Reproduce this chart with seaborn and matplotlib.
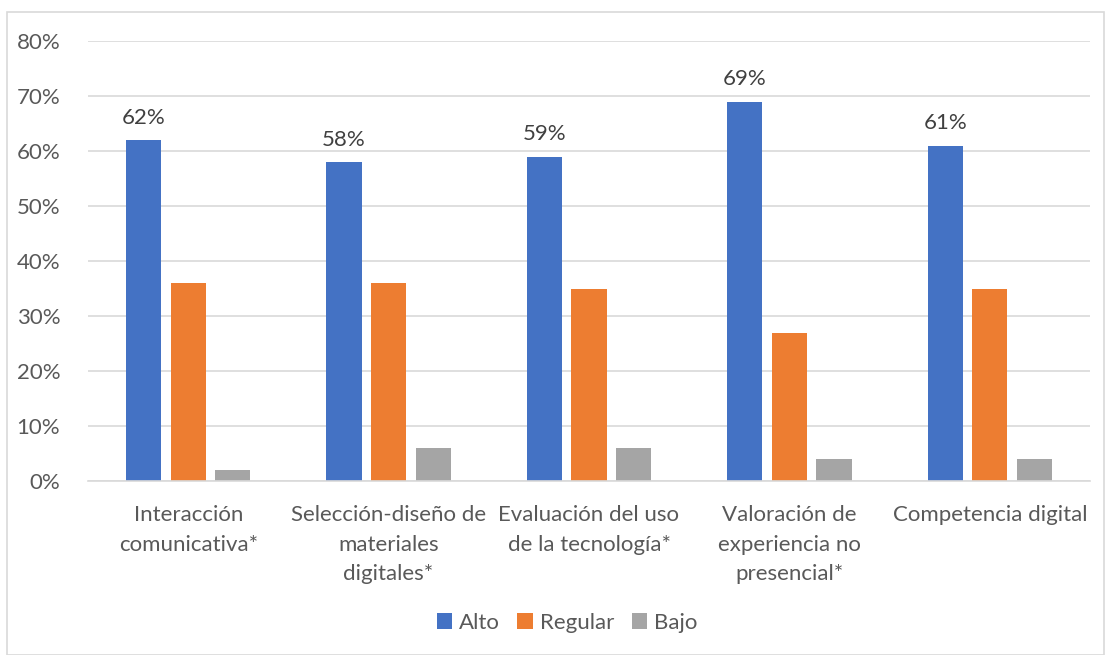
import matplotlib
matplotlib.use("Agg")
import matplotlib.pyplot as plt
import seaborn as sns
import pandas as pd
from matplotlib.patches import Rectangle

categories = ["Interacción\ncomunicativa*", "Selección-diseño de\nmateriales\ndigitales*",
              "Evaluación del uso\nde la tecnología*", "Valoración de\nexperiencia no\npresencial*",
              "Competencia digital"]
series_names = ["Alto", "Regular", "Bajo"]
alto = [62, 58, 59, 69, 61]
regular = [36, 36, 35, 27, 35]
bajo = [2, 6, 6, 4, 4]
yticks = [0, 10, 20, 30, 40, 50, 60, 70, 80]
colors = ["#4472C4", "#ED7D31", "#A5A5A5"]

rows = []
for name, vals in zip(series_names, [alto, regular, bajo]):
    for c, v in zip(categories, vals):
        rows.append({"cat": c, "serie": name, "val": v})
df = pd.DataFrame(rows)

sns.set_theme(style="white")
plt.rcParams["font.family"] = ["Lato", "DejaVu Sans"]
txt = "#595959"
fs = 16

fig = plt.figure(figsize=(11.06, 6.55), dpi=100)
ax = fig.add_axes([88/1106, 1-481/655, 1002/1106, 440/655])
sns.barplot(data=df, x="cat", y="val", hue="serie", hue_order=series_names,
            palette=colors, width=0.667, gap=0.21, ax=ax, legend=True,
            saturation=1, edgecolor="none")

ax.set_ylim(0, 80)
ax.set_xlim(-0.5, 4.5)
ax.set_yticks(yticks)
ax.set_yticklabels([f"{t}%" for t in yticks], color=txt, fontsize=fs)
ax.set_xticks(range(len(categories)))
ax.set_xticklabels(categories, color=txt, fontsize=fs, linespacing=1.62, va="top")
ax.tick_params(axis="x", length=0, pad=17)
ax.tick_params(axis="y", length=0, pad=20)
ax.set_xlabel("")
ax.set_ylabel("")
ax.yaxis.grid(True, color="#D9D9D9", linewidth=1.2)
ax.set_axisbelow(True)
for s in ["top", "right", "left"]:
    ax.spines[s].set_visible(False)
ax.spines["bottom"].set_color("#D9D9D9")
ax.spines["bottom"].set_linewidth(1.2)

# labels on Alto bars
cont = ax.containers[0]
ax.bar_label(cont, labels=[f"{v}%" for v in alto], padding=9, color="#404040", fontsize=fs)

handles, labels = ax.get_legend_handles_labels()
ax.legend_.remove()
fig.legend(handles, labels, loc="center", bbox_to_anchor=(567/1106, 1-623/655), ncol=3,
           frameon=False, fontsize=fs, labelcolor=txt, handlelength=0.7, handleheight=0.7,
           columnspacing=0.8, handletextpad=0.3)

fig.patches.append(Rectangle((7/1106, 0), 1097/1106, 1-12/655, transform=fig.transFigure,
                             fill=False, edgecolor="#D9D9D9", linewidth=1.2))

fig.savefig("out.png", dpi=100, facecolor="white")
